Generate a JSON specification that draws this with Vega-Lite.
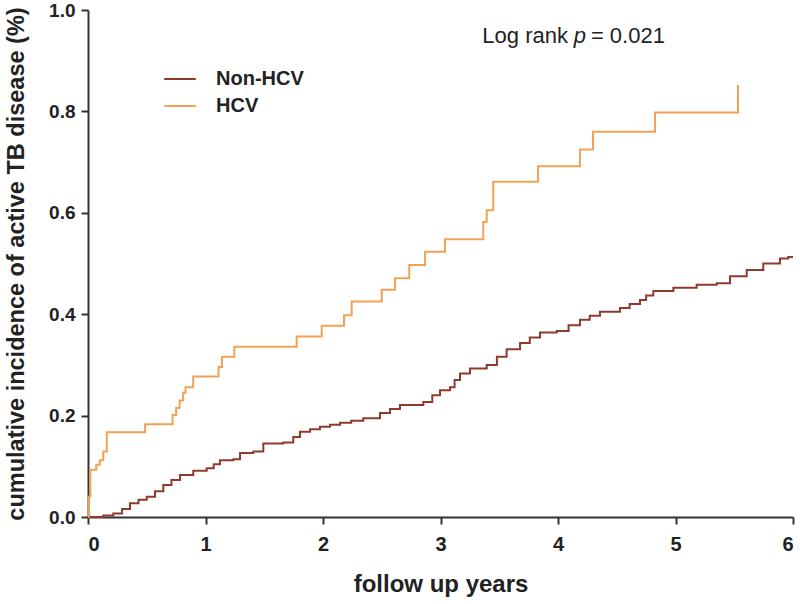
{
  "$schema": "https://vega.github.io/schema/vega-lite/v6.json",
  "autosize": "none",
  "width": 705,
  "height": 507,
  "padding": {"left": 88, "top": 10, "right": 7, "bottom": 87},
  "background": "white",
  "config": {"view": {"stroke": null}},
  "layer": [
    {
      "data": {"values": [
        {"t": 0, "v": 0, "g": "Non-HCV"},
        {"t": 0.074, "v": 0.0, "g": "Non-HCV"},
        {"t": 0.13, "v": 0.003, "g": "Non-HCV"},
        {"t": 0.215, "v": 0.007, "g": "Non-HCV"},
        {"t": 0.29, "v": 0.016, "g": "Non-HCV"},
        {"t": 0.357, "v": 0.027, "g": "Non-HCV"},
        {"t": 0.43, "v": 0.034, "g": "Non-HCV"},
        {"t": 0.5, "v": 0.04, "g": "Non-HCV"},
        {"t": 0.57, "v": 0.051, "g": "Non-HCV"},
        {"t": 0.641, "v": 0.063, "g": "Non-HCV"},
        {"t": 0.71, "v": 0.073, "g": "Non-HCV"},
        {"t": 0.783, "v": 0.083, "g": "Non-HCV"},
        {"t": 0.896, "v": 0.091, "g": "Non-HCV"},
        {"t": 1.01, "v": 0.096, "g": "Non-HCV"},
        {"t": 1.07, "v": 0.104, "g": "Non-HCV"},
        {"t": 1.123, "v": 0.112, "g": "Non-HCV"},
        {"t": 1.237, "v": 0.114, "g": "Non-HCV"},
        {"t": 1.294, "v": 0.126, "g": "Non-HCV"},
        {"t": 1.407, "v": 0.129, "g": "Non-HCV"},
        {"t": 1.492, "v": 0.145, "g": "Non-HCV"},
        {"t": 1.662, "v": 0.147, "g": "Non-HCV"},
        {"t": 1.747, "v": 0.158, "g": "Non-HCV"},
        {"t": 1.804, "v": 0.168, "g": "Non-HCV"},
        {"t": 1.89, "v": 0.173, "g": "Non-HCV"},
        {"t": 1.974, "v": 0.178, "g": "Non-HCV"},
        {"t": 2.06, "v": 0.182, "g": "Non-HCV"},
        {"t": 2.145, "v": 0.186, "g": "Non-HCV"},
        {"t": 2.24, "v": 0.19, "g": "Non-HCV"},
        {"t": 2.343, "v": 0.195, "g": "Non-HCV"},
        {"t": 2.485, "v": 0.205, "g": "Non-HCV"},
        {"t": 2.57, "v": 0.213, "g": "Non-HCV"},
        {"t": 2.655, "v": 0.221, "g": "Non-HCV"},
        {"t": 2.854, "v": 0.227, "g": "Non-HCV"},
        {"t": 2.93, "v": 0.24, "g": "Non-HCV"},
        {"t": 2.996, "v": 0.25, "g": "Non-HCV"},
        {"t": 3.081, "v": 0.256, "g": "Non-HCV"},
        {"t": 3.12, "v": 0.27, "g": "Non-HCV"},
        {"t": 3.166, "v": 0.283, "g": "Non-HCV"},
        {"t": 3.251, "v": 0.293, "g": "Non-HCV"},
        {"t": 3.393, "v": 0.3, "g": "Non-HCV"},
        {"t": 3.48, "v": 0.316, "g": "Non-HCV"},
        {"t": 3.563, "v": 0.331, "g": "Non-HCV"},
        {"t": 3.677, "v": 0.343, "g": "Non-HCV"},
        {"t": 3.76, "v": 0.354, "g": "Non-HCV"},
        {"t": 3.847, "v": 0.364, "g": "Non-HCV"},
        {"t": 3.989, "v": 0.367, "g": "Non-HCV"},
        {"t": 4.09, "v": 0.378, "g": "Non-HCV"},
        {"t": 4.187, "v": 0.389, "g": "Non-HCV"},
        {"t": 4.27, "v": 0.397, "g": "Non-HCV"},
        {"t": 4.357, "v": 0.405, "g": "Non-HCV"},
        {"t": 4.528, "v": 0.412, "g": "Non-HCV"},
        {"t": 4.61, "v": 0.42, "g": "Non-HCV"},
        {"t": 4.698, "v": 0.428, "g": "Non-HCV"},
        {"t": 4.75, "v": 0.437, "g": "Non-HCV"},
        {"t": 4.811, "v": 0.446, "g": "Non-HCV"},
        {"t": 4.982, "v": 0.452, "g": "Non-HCV"},
        {"t": 5.18, "v": 0.458, "g": "Non-HCV"},
        {"t": 5.351, "v": 0.461, "g": "Non-HCV"},
        {"t": 5.464, "v": 0.475, "g": "Non-HCV"},
        {"t": 5.606, "v": 0.487, "g": "Non-HCV"},
        {"t": 5.747, "v": 0.5, "g": "Non-HCV"},
        {"t": 5.889, "v": 0.51, "g": "Non-HCV"},
        {"t": 5.96, "v": 0.513, "g": "Non-HCV"},
        {"t": 6.0, "v": 0.513, "g": "Non-HCV"},
        {"t": 0, "v": 0, "g": "HCV"},
        {"t": 0.005, "v": 0.04, "g": "HCV"},
        {"t": 0.02, "v": 0.093, "g": "HCV"},
        {"t": 0.07, "v": 0.103, "g": "HCV"},
        {"t": 0.1, "v": 0.112, "g": "HCV"},
        {"t": 0.13, "v": 0.129, "g": "HCV"},
        {"t": 0.16, "v": 0.167, "g": "HCV"},
        {"t": 0.486, "v": 0.183, "g": "HCV"},
        {"t": 0.72, "v": 0.201, "g": "HCV"},
        {"t": 0.75, "v": 0.215, "g": "HCV"},
        {"t": 0.78, "v": 0.23, "g": "HCV"},
        {"t": 0.81, "v": 0.245, "g": "HCV"},
        {"t": 0.83, "v": 0.256, "g": "HCV"},
        {"t": 0.895, "v": 0.277, "g": "HCV"},
        {"t": 1.111, "v": 0.296, "g": "HCV"},
        {"t": 1.14, "v": 0.316, "g": "HCV"},
        {"t": 1.245, "v": 0.336, "g": "HCV"},
        {"t": 1.776, "v": 0.356, "g": "HCV"},
        {"t": 1.989, "v": 0.377, "g": "HCV"},
        {"t": 2.179, "v": 0.398, "g": "HCV"},
        {"t": 2.244, "v": 0.425, "g": "HCV"},
        {"t": 2.5, "v": 0.448, "g": "HCV"},
        {"t": 2.613, "v": 0.471, "g": "HCV"},
        {"t": 2.734, "v": 0.497, "g": "HCV"},
        {"t": 2.868, "v": 0.523, "g": "HCV"},
        {"t": 3.038, "v": 0.548, "g": "HCV"},
        {"t": 3.364, "v": 0.582, "g": "HCV"},
        {"t": 3.393, "v": 0.605, "g": "HCV"},
        {"t": 3.449, "v": 0.661, "g": "HCV"},
        {"t": 3.83, "v": 0.692, "g": "HCV"},
        {"t": 4.187, "v": 0.725, "g": "HCV"},
        {"t": 4.298, "v": 0.76, "g": "HCV"},
        {"t": 4.826, "v": 0.798, "g": "HCV"},
        {"t": 5.532, "v": 0.852, "g": "HCV"}
      ]},
      "mark": {"type": "line", "interpolate": "step-after", "strokeWidth": 2},
      "encoding": {
        "x": {
          "field": "t", "type": "quantitative",
          "scale": {"domain": [0, 6], "nice": false, "zero": false},
          "axis": {
            "title": "follow up years",
            "values": [0, 1, 2, 3, 4, 5, 6],
            "format": "d",
            "grid": false,
            "domainColor": "#333333", "domainWidth": 2,
            "tickColor": "#333333", "tickWidth": 2, "tickSize": 7,
            "labelFont": "'Liberation Sans', Arial",
            "labelFontSize": 20, "labelFontWeight": "bold", "labelColor": "#222222",
            "labelPadding": 10,
            "titleFont": "'Liberation Sans', Arial",
            "titleFontSize": 24, "titleFontWeight": "bold", "titleColor": "#222222",
            "titlePadding": 18
          }
        },
        "y": {
          "field": "v", "type": "quantitative",
          "scale": {"domain": [0, 1], "nice": false},
          "axis": {
            "title": "cumulative incidence of active TB disease (%)",
            "values": [0, 0.2, 0.4, 0.6, 0.8, 1.0],
            "format": ".1f",
            "grid": false,
            "domainColor": "#333333", "domainWidth": 2,
            "tickColor": "#333333", "tickWidth": 2, "tickSize": 7,
            "labelFont": "'Liberation Sans', Arial",
            "labelFontSize": 19, "labelFontWeight": "bold", "labelColor": "#222222",
            "labelPadding": 6,
            "titleFont": "'Liberation Sans', Arial",
            "titleFontSize": 23.5, "titleFontWeight": "bold", "titleColor": "#222222",
            "titlePadding": 20
          }
        },
        "color": {
          "field": "g", "type": "nominal",
          "scale": {"domain": ["Non-HCV", "HCV"], "range": ["#8E3B2E", "#F2A255"]},
          "legend": {
            "title": null,
            "orient": "none",
            "legendX": 75,
            "legendY": 52,
            "symbolType": "stroke",
            "symbolStrokeWidth": 2,
            "symbolSize": 1000,
            "labelFont": "'Liberation Sans', Arial",
            "labelFontSize": 20,
            "labelFontWeight": "bold",
            "labelColor": "#222222",
            "rowPadding": -6,
            "labelOffset": 19
          }
        }
      }
    },
    {
      "data": {"values": [
        {"t": 4.085, "v": 0.935, "s": "Log rank"}
      ]},
      "mark": {"type": "text", "align": "right", "baseline": "alphabetic", "font": "'Liberation Sans', Arial", "fontSize": 22, "color": "#222222"},
      "encoding": {
        "x": {"field": "t", "type": "quantitative"},
        "y": {"field": "v", "type": "quantitative"},
        "text": {"field": "s"}
      }
    },
    {
      "data": {"values": [
        {"t": 4.187, "v": 0.935, "s": "p"}
      ]},
      "mark": {"type": "text", "align": "center", "baseline": "alphabetic", "font": "'Liberation Sans', Arial", "fontSize": 22, "fontStyle": "italic", "color": "#222222"},
      "encoding": {
        "x": {"field": "t", "type": "quantitative"},
        "y": {"field": "v", "type": "quantitative"},
        "text": {"field": "s"}
      }
    },
    {
      "data": {"values": [
        {"t": 4.28, "v": 0.935, "s": "= 0.021"}
      ]},
      "mark": {"type": "text", "align": "left", "baseline": "alphabetic", "font": "'Liberation Sans', Arial", "fontSize": 22, "color": "#222222"},
      "encoding": {
        "x": {"field": "t", "type": "quantitative"},
        "y": {"field": "v", "type": "quantitative"},
        "text": {"field": "s"}
      }
    }
  ]
}
